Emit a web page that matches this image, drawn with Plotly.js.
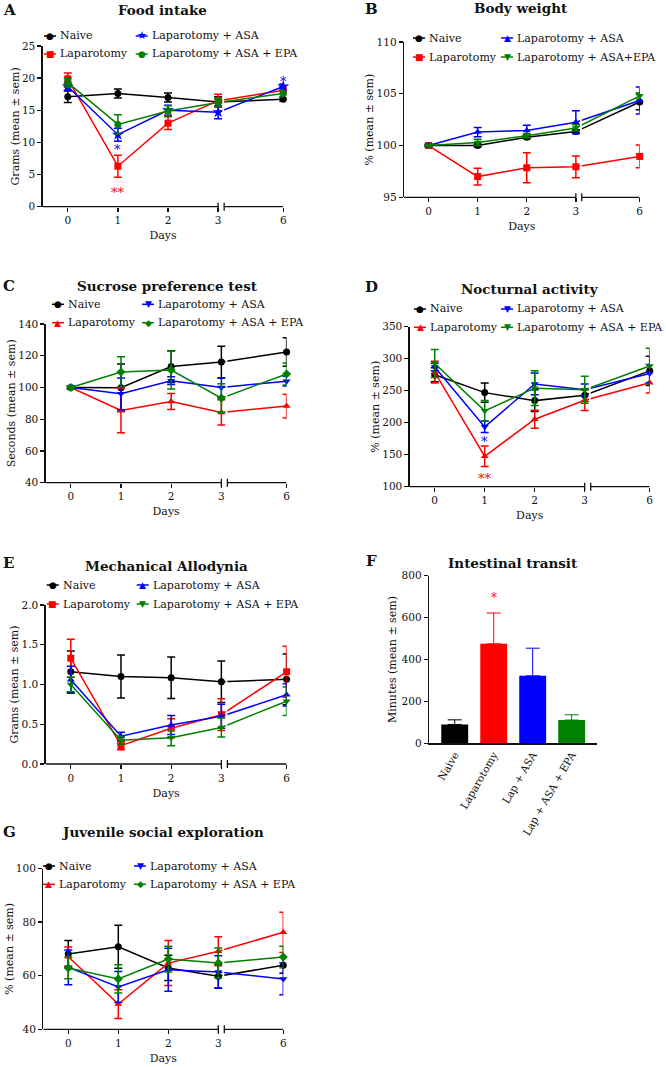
<!DOCTYPE html>
<html><head><meta charset="utf-8">
<script src="https://cdn.plot.ly/plotly-3.0.1.min.js"></script>
<style>html,body{margin:0;padding:0;background:#fff}#chart{width:666px;height:1067px}</style>
</head><body><div id="chart"></div>
<script>
// ---------- DATA ----------
const days = [0, 1, 2, 3, 6];
const dayLabels = ['0', '1', '2', '3', '6'];
const groupNames = ['Naive', 'Laparotomy', 'Laparotomy + ASA', 'Laparotomy + ASA + EPA'];
const groupNamesB = ['Naive', 'Laparotomy', 'Laparotomy + ASA', 'Laparotomy + ASA+EPA'];

// A Food intake (grams)
const foodNaive = [17.1, 17.6, 17.0, 16.3, 16.7];
const foodNaiveErr = [0.9, 0.7, 0.7, 0.8, 0.3];
const foodLap = [19.9, 6.3, 13.0, 16.5, 18.1];
const foodLapErr = [0.9, 1.7, 1.0, 1.0, 0.6];
const foodAsa = [18.7, 11.2, 15.0, 14.7, 18.7];
const foodAsaErr = [0.6, 1.0, 0.8, 1.0, 0.4];
const foodEpa = [19.3, 12.8, 14.9, 16.2, 17.6];
const foodEpaErr = [0.7, 1.5, 0.8, 0.6, 0.5];

// B Body weight (%)
const bwNaive = [100, 100.0, 100.8, 101.35, 104.2];
const bwNaiveErr = [0.1, 0.15, 0.15, 0.15, 0.75];
const bwLap = [100, 97.0, 97.85, 97.95, 98.95];
const bwLapErr = [0.1, 0.8, 1.45, 1.05, 1.1];
const bwAsa = [100, 101.3, 101.45, 102.25, 104.35];
const bwAsaErr = [0.1, 0.45, 0.5, 1.1, 1.3];
const bwEpa = [100, 100.3, 100.95, 101.7, 104.8];
const bwEpaErr = [0.1, 0.3, 0.2, 0.3, 0.3];

// C Sucrose preference test (seconds)
const spNaive = [100, 99.8, 113.2, 116, 122.3];
const spNaiveErr = [1, 15, 10, 10, 9];
const spLap = [100, 85.5, 91.2, 84.3, 88.3];
const spLapErr = [1, 14, 5, 8, 7.5];
const spAsa = [100, 96, 104.3, 100, 104];
const spAsaErr = [1, 10, 2.5, 6, 3];
const spEpa = [100, 109.8, 111, 93.3, 108.5];
const spEpaErr = [1, 9.5, 12, 9, 7];

// D Nocturnal activity (%)
const naNaive = [275, 247, 234.5, 243, 281];
const naNaiveErr = [11, 15, 17, 10, 23];
const naLap = [279, 147.5, 205.5, 235, 262.5];
const naLapErr = [17, 16, 14, 16, 16];
const naAsa = [287, 193.5, 260.5, 251.5, 277];
const naAsaErr = [6, 9, 17, 9, 14];
const naEpa = [292.5, 218.5, 254, 251.5, 288.5];
const naEpaErr = [22, 16, 27, 21, 28];

// E Mechanical allodynia (grams)
const maNaive = [1.16, 1.10, 1.085, 1.035, 1.065];
const maNaiveErr = [0.26, 0.27, 0.26, 0.26, 0.32];
const maLap = [1.33, 0.23, 0.45, 0.62, 1.16];
const maLapErr = [0.24, 0.05, 0.12, 0.2, 0.32];
const maAsa = [1.06, 0.35, 0.49, 0.60, 0.87];
const maAsaErr = [0.17, 0.05, 0.12, 0.15, 0.14];
const maEpa = [1.00, 0.30, 0.33, 0.46, 0.79];
const maEpaErr = [0.09, 0.05, 0.1, 0.12, 0.18];

// F Intestinal transit (minutes)
const transitCats = ['Naive', 'Laparotomy', 'Lap + ASA', 'Lap + ASA + EPA'];
const transitVals = [90, 475, 322, 111];
const transitErr = [22, 147, 132, 25];

// G Juvenile social exploration (%)
const jsNaive = [68.1, 70.8, 62.9, 59.8, 63.9];
const jsNaiveErr = [5, 8, 4.7, 4.5, 3];
const jsLap = [67.1, 49.4, 64.7, 69.1, 76.2];
const jsLapErr = [3.6, 5.4, 8.4, 5.4, 7.5];
const jsAsa = [63.1, 55.8, 62.2, 61.4, 58.8];
const jsAsaErr = [6.5, 5.8, 8, 6, 5.9];
const jsEpa = [62.9, 58.8, 66.2, 64.7, 67];
const jsEpaErr = [4, 5.3, 4.8, 5.6, 4];

// ---------- STYLE / LAYOUT ----------
const colors = ['#000000', '#ff0000', '#0000ff', '#008000'];
const W = 666, H = 1067;
const fx = p => p / W;
const fy = p => 1 - p / H;
const breakPos = d => d <= 3 ? d : 3 + (d - 3) * 1.3 / 3;   // broken x axis scale
const FONT = 'DejaVu Serif';
const SYMFONT = 'DejaVu Sans';
const INK = '#111111';
const glyph = {circle: '●', square: '■', 'triangle-up': '▲', 'triangle-down': '▼', diamond: '◆', star: '★'};

const linePanels = [
  {k: 1, letter: 'A', title: 'Food intake', names: groupNames,
   vals: [foodNaive, foodLap, foodAsa, foodEpa], errs: [foodNaiveErr, foodLapErr, foodAsaErr, foodEpaErr],
   sym: ['circle', 'square', 'star', 'circle'], box: [42.7, 283.3, 46, 206.7], yr: [0, 25], yt: [0, 5, 10, 15, 20, 25],
   ytitle: 'Grams (mean ± sem)', titleXY: [162, 10], letterXY: [9, 10], leg: [50, 141.7, 36, 54],
   stars: [{x: 1, y: 9.3, t: '*', c: 2}, {x: 1, y: 2.6, t: '**', c: 1}, {x: breakPos(6), y: 20.0, t: '*', c: 2}]},
  {k: 2, letter: 'B', title: 'Body weight', names: groupNamesB,
   vals: [bwNaive, bwLap, bwAsa, bwEpa], errs: [bwNaiveErr, bwLapErr, bwAsaErr, bwEpaErr],
   sym: ['circle', 'square', 'triangle-up', 'triangle-down'], box: [404, 639.7, 42, 197.3], yr: [95, 110], yt: [95, 100, 105, 110],
   ytitle: '% (mean ± sem)', titleXY: [521, 8], letterXY: [372, 9], leg: [419, 507, 38, 57], stars: []},
  {k: 3, letter: 'C', title: 'Sucrose preference test', names: groupNames,
   vals: [spNaive, spLap, spAsa, spEpa], errs: [spNaiveErr, spLapErr, spAsaErr, spEpaErr],
   sym: ['circle', 'triangle-up', 'triangle-down', 'diamond'], box: [45.7, 286.6, 324, 482.7], yr: [40, 140], yt: [40, 60, 80, 100, 120, 140],
   ytitle: 'Seconds (mean ± sem)', titleXY: [167, 286], letterXY: [9, 286], leg: [58, 148, 304.3, 322.7], stars: []},
  {k: 4, letter: 'D', title: 'Nocturnal activity', names: groupNames,
   vals: [naNaive, naLap, naAsa, naEpa], errs: [naNaiveErr, naLapErr, naAsaErr, naEpaErr],
   sym: ['circle', 'triangle-up', 'triangle-down', 'triangle-down'], box: [409.7, 649.7, 326.7, 486.7], yr: [100, 350], yt: [100, 150, 200, 250, 300, 350],
   ytitle: '% (mean ± sem)', titleXY: [530, 289], letterXY: [372, 287], leg: [420, 507, 309, 327.3],
   stars: [{x: 1, y: 176, t: '*', c: 2}, {x: 1, y: 118, t: '**', c: 1}]},
  {k: 5, letter: 'E', title: 'Mechanical Allodynia', names: groupNames,
   vals: [maNaive, maLap, maAsa, maEpa], errs: [maNaiveErr, maLapErr, maAsaErr, maEpaErr],
   sym: ['circle', 'square', 'triangle-up', 'triangle-down'], box: [45.7, 286.6, 605, 764], yr: [0, 2], yt: [0, 0.5, 1, 1.5, 2], yfmt: '.1f',
   ytitle: 'Grams (mean ± sem)', titleXY: [166, 566], letterXY: [8, 563], leg: [52.7, 142.7, 585, 604], stars: []},
  {k: 7, letter: 'G', title: 'Juvenile social exploration', names: groupNames,
   vals: [jsNaive, jsLap, jsAsa, jsEpa], errs: [jsNaiveErr, jsLapErr, jsAsaErr, jsEpaErr],
   sym: ['circle', 'triangle-up', 'triangle-down', 'diamond'], box: [43.3, 283.3, 868.5, 1029.3], yr: [40, 100], yt: [40, 60, 80, 100],
   ytitle: '% (mean ± sem)', titleXY: [163, 832], letterXY: [9, 832], leg: [49, 140, 866, 884.3], stars: []}
];

const traces = [], shapes = [], annotations = [];
const layout = {
  width: W, height: H, margin: {l: 0, r: 0, t: 0, b: 0},
  paper_bgcolor: '#ffffff', plot_bgcolor: '#ffffff', showlegend: false,
  barmode: 'overlay', font: {family: FONT, color: INK},
  shapes: shapes, annotations: annotations
};

const tickFont = {family: FONT, size: 10.5, color: INK};
const axTitleFont = {family: FONT, size: 11, color: INK};
const ids = k => (k === 1 ? '' : String(k));

function panelText(p) {
  annotations.push({xref: 'paper', yref: 'paper', x: fx(p.titleXY[0]), y: fy(p.titleXY[1]), text: '<b>' + p.title + '</b>',
    font: {family: FONT, size: 13.5, color: INK}, showarrow: false, xanchor: 'center', yanchor: 'middle'});
  annotations.push({xref: 'paper', yref: 'paper', x: fx(p.letterXY[0]), y: fy(p.letterXY[1]), text: '<b>' + p.letter + '</b>',
    font: {family: FONT, size: 15, color: INK}, showarrow: false, xanchor: 'center', yanchor: 'middle'});
}

linePanels.forEach(p => {
  const s = ids(p.k), xr = 'x' + s, yr = 'y' + s;
  const xpos = days.map(breakPos);
  for (let g = 0; g < 4; g++) {
    traces.push({
      type: 'scatter', mode: 'lines+markers', name: p.names[g], x: xpos, y: p.vals[g],
      xaxis: xr, yaxis: yr, showlegend: false, cliponaxis: false,
      line: {color: colors[g], width: 1.5},
      marker: {symbol: p.sym[g], size: p.sym[g] === 'star' ? 9 : 7, color: colors[g]},
      error_y: {type: 'data', array: p.errs[g], visible: true, color: colors[g], thickness: 1.5, width: 4}
    });
  }
  layout['xaxis' + s] = {
    domain: [fx(p.box[0]), fx(p.box[1])], range: [-0.5, 4.3], anchor: yr,
    tickmode: 'array', tickvals: xpos, ticktext: dayLabels,
    ticks: 'outside', ticklen: 4, tickwidth: 1.3, tickcolor: INK,
    showline: false, showgrid: false, zeroline: false, fixedrange: true,
    tickfont: tickFont, title: {text: 'Days', font: axTitleFont, standoff: 6}
  };
  layout['yaxis' + s] = {
    domain: [fy(p.box[3]), fy(p.box[2])], range: p.yr, anchor: xr,
    tickmode: 'array', tickvals: p.yt, tickformat: p.yfmt || '',
    ticks: 'outside', ticklen: 4, tickwidth: 1.3, tickcolor: INK,
    showline: true, linewidth: 1.3, linecolor: INK, showgrid: false, zeroline: false, fixedrange: true,
    tickfont: tickFont, title: {text: p.ytitle, font: axTitleFont, standoff: 0}
  };
  // broken x axis
  const yd = yr + ' domain';
  const axLine = {color: INK, width: 1.3};
  shapes.push({type: 'rect', xref: xr, yref: yd, x0: 3.085, x1: 3.12, y0: 0.01, y1: 1, fillcolor: '#ffffff', line: {width: 0}, layer: 'above'});
  shapes.push({type: 'line', xref: xr, yref: yd, x0: -0.5, x1: 3.0, y0: 0, y1: 0, line: axLine, layer: 'above'});
  shapes.push({type: 'line', xref: xr, yref: yd, x0: 3.12, x1: 4.3, y0: 0, y1: 0, line: axLine, layer: 'above'});
  shapes.push({type: 'line', xref: xr, yref: yd, ysizemode: 'pixel', yanchor: 0, x0: 3.0, x1: 3.0, y0: -4, y1: 4, line: axLine, layer: 'above'});
  shapes.push({type: 'line', xref: xr, yref: yd, ysizemode: 'pixel', yanchor: 0, x0: 3.12, x1: 3.12, y0: -4, y1: 4, line: axLine, layer: 'above'});
  // legend (2 columns)
  const [c1, c2, r1, r2] = p.leg;
  const pos = [[c1, r1], [c1, r2], [c2, r1], [c2, r2]];
  for (let g = 0; g < 4; g++) {
    const [lx, ly] = pos[g];
    shapes.push({type: 'line', xref: 'paper', yref: 'paper', x0: fx(lx - 6), x1: fx(lx + 6), y0: fy(ly), y1: fy(ly), line: {color: colors[g], width: 1.5}});
    annotations.push({xref: 'paper', yref: 'paper', x: fx(lx), y: fy(ly), text: glyph[p.sym[g]],
      font: {family: SYMFONT, size: p.sym[g] === 'star' ? 11 : 9, color: colors[g]}, showarrow: false, xanchor: 'center', yanchor: 'middle'});
    annotations.push({xref: 'paper', yref: 'paper', x: fx(lx + 8), y: fy(ly), text: p.names[g],
      font: {family: FONT, size: 11, color: INK}, showarrow: false, xanchor: 'left', yanchor: 'middle'});
  }
  p.stars.forEach(st => annotations.push({xref: xr, yref: yr, x: st.x, y: st.y, text: st.t, yshift: -3,
    font: {family: FONT, size: 13, color: colors[st.c]}, showarrow: false, xanchor: 'center', yanchor: 'middle'}));
  panelText(p);
});

// ---------- Panel F: bar chart ----------
transitCats.forEach((c, i) => {
  traces.push({
    type: 'bar', name: c, x: [c], y: [transitVals[i]], xaxis: 'x6', yaxis: 'y6', width: 0.69,
    marker: {color: colors[i], line: {width: 0}}, showlegend: false,
    error_y: {type: 'data', symmetric: false, array: [transitErr[i]], arrayminus: [0], visible: true, color: colors[i], thickness: 1, width: 7}
  });
});
layout.xaxis6 = {
  domain: [fx(429), fx(597)], range: [-0.66, 3.65], anchor: 'y6', type: 'category',
  categoryorder: 'array', categoryarray: transitCats,
  showline: true, linewidth: 1.3, linecolor: INK, ticks: '', tickangle: -60,
  showgrid: false, zeroline: false, fixedrange: true, tickfont: tickFont
};
layout.yaxis6 = {
  domain: [fy(743.3), fy(575.7)], range: [0, 800], anchor: 'x6', tickmode: 'array', tickvals: [0, 200, 400, 600, 800],
  ticks: 'outside', ticklen: 4, tickwidth: 1.3, tickcolor: INK,
  showline: true, linewidth: 1.3, linecolor: INK, showgrid: false, zeroline: false, fixedrange: true,
  tickfont: tickFont, title: {text: 'Minutes (mean ± sem)', font: axTitleFont, standoff: 2}
};
annotations.push({xref: 'x6', yref: 'y6', x: 'Laparotomy', y: 708, text: '*', yshift: -3,
  font: {family: FONT, size: 12, color: colors[1]}, showarrow: false, xanchor: 'center', yanchor: 'middle'});
panelText({title: 'Intestinal transit', letter: 'F', titleXY: [513, 563], letterXY: [371, 561]});

Plotly.newPlot('chart', traces, layout, {displayModeBar: false, staticPlot: true});
</script>
</body></html>
